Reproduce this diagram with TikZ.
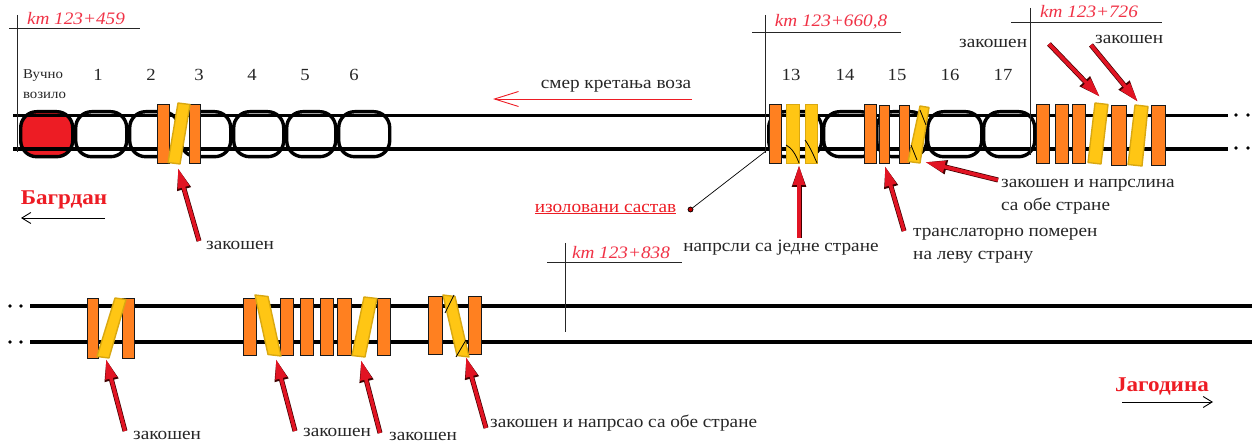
\documentclass[tikz,border=0pt]{standalone}
\usepackage{fontspec}
\setmainfont[FakeStretch=1.1]{Liberation Serif}
\usetikzlibrary{arrows.meta}
\definecolor{tieorange}{RGB}{255,128,32}
\definecolor{tieyellow}{RGB}{255,198,20}
\definecolor{marksred}{RGB}{237,28,36}
\definecolor{kmred}{RGB}{240,50,70}
\definecolor{arrowred}{RGB}{225,20,35}
\tikzset{
  x=1pt,y=-1pt,
  rail/.style={line width=3.4pt,black},
  bogie/.style={draw=black,line width=3.4pt,rounded corners=16pt},
  tie/.style={draw=black!90,line width=1.2pt,fill=tieorange},
  skewtie/.style={draw=tieyellow!85!black,line width=1.4pt,fill=tieyellow,line join=round},
  crack/.style={black,line width=.8pt},
  survey/.style={draw=black!85,line width=1pt},
  kmtext/.style={text=kmred,font=\fontsize{17.5}{17.5}\selectfont\itshape,inner sep=0pt},
  lbl/.style={font=\fontsize{17.5}{17.5}\selectfont,text=black!85,inner sep=0pt},
  num/.style={font=\fontsize{17}{17}\selectfont,text=black!85,inner sep=0pt},
  place/.style={font=\fontsize{21}{21}\selectfont\bfseries,text=marksred,inner sep=0pt},
  hit/.style={
    preaction={draw=black!75!red,line width=5pt,-{Triangle[length=22pt,width=13pt]}},
    draw=arrowred,line width=3.6pt,-{Triangle[length=20pt,width=11pt]}},
  dir/.style={line width=.9pt,-{Straight Barb[length=9pt,width=11pt]}},
}
\newcommand{\ort}[5]{\node[tie,minimum width=#3pt-#2pt,minimum height=#5pt-#4pt,inner sep=0pt,anchor=north west] (#1) at (#2,#4) {};}
\newcommand{\yrt}[5]{\node[tie,fill=tieyellow,draw=tieyellow!85!black,line width=.7pt,minimum width=#3pt-#2pt,minimum height=#5pt-#4pt,inner sep=0pt,anchor=north west] (#1) at (#2,#4) {};}
\newcommand{\sk}[7]{\draw[skewtie] (#2,#6) -- (#3,#6+1.5) -- (#5,#7) -- (#4,#7-1.5) -- cycle;\coordinate (#1) at ({(#4+#5)/2},#7);}
\newcommand{\bog}[3]{\node[bogie,minimum width=#3pt-#2pt,minimum height=45pt,inner sep=0pt,anchor=north west] (#1) at (#2,110) {};}
\begin{document}
\begin{tikzpicture}
\useasboundingbox (0,0) rectangle (1255,443);
% rails
\coordinate (r1a) at (13,115.5); \coordinate (r1b) at (1228,115.5);
\coordinate (r2a) at (13,149); \coordinate (r2b) at (1228,149);
\coordinate (r3a) at (30,306); \coordinate (r3b) at (1252,306);
\coordinate (r4a) at (30,342); \coordinate (r4b) at (1252,342);
% bogies
\node[bogie,fill=marksred,minimum width=52pt,minimum height=45pt,inner sep=0pt,anchor=north west] (v0) at (19,110) {};
\bog{b1}{74}{125}\bog{b2}{128}{177}\bog{b3}{179}{229}\bog{b4}{232}{282}\bog{b5}{285}{334}\bog{b6}{337}{388}
\bog{b13}{767}{820}\bog{b14}{822}{875}\bog{b15}{875}{925}\bog{b16}{926}{980}\bog{b17}{982}{1033}
\draw[rail] (r1a) -- (r1b); \draw[rail] (r2a) -- (r2b);
\draw[rail] (r3a) -- (r3b); \draw[rail] (r4a) -- (r4b);
% dots
\foreach \x/\y in {1236/115,1248/115,1236/148,1248/148,10/306,21/306,10/342,21/342}
  \fill[black] (\x,\y) circle (1.9pt);
% survey lines
\coordinate (k1t) at (17,15); \coordinate (k1b) at (17,152); \coordinate (k1l) at (9,29); \coordinate (k1r) at (140,29);
\coordinate (k2t) at (765,15); \coordinate (k2b) at (765,153); \coordinate (k2l) at (752,33); \coordinate (k2r) at (901,33);
\coordinate (k3t) at (1030,8); \coordinate (k3b) at (1030,155); \coordinate (k3l) at (1011,23); \coordinate (k3r) at (1162,23);
\coordinate (k4t) at (565.5,243); \coordinate (k4b) at (565.5,332); \coordinate (k4l) at (547,262.5); \coordinate (k4r) at (682,262.5);
\foreach \n in {1,2,3,4}{\draw[survey] (k\n t) -- (k\n b); \draw[survey] (k\n l) -- (k\n r);}
\node[kmtext] (t1) at (76,19) {km 123+459};
\node[kmtext] (t2) at (831,22) {km 123+660,8};
\node[kmtext] (t3) at (1089,12) {km 123+726};
\node[kmtext] (t4) at (621,253) {km 123+838};
% ties group 1
\ort{o1}{157}{169}{104}{163}
\ort{o2}{189}{200}{104}{163}
\sk{y1}{178}{190}{168}{180}{103}{164}
% group 2
\ort{o3}{769}{781}{104}{163}
\yrt{o4}{786}{799}{104}{163}
\yrt{o5}{805}{817}{104}{163}
\draw[crack] (786,145) .. controls (792,148) and (796,155) .. (799,163);
\draw[crack] (805,140) .. controls (810,147) and (814,156) .. (817,163);
\ort{o6}{864}{876}{104}{163}
\ort{o7}{879}{889}{105}{163}
\ort{o8}{899}{909}{105}{163}
\sk{y2}{920}{929}{908}{920}{106}{163}
\draw[crack] (920,110) -- (926,125);
\draw[crack] (911,145) -- (917,160);
% group 3
\ort{o9}{1036}{1049}{104}{163}
\ort{o10}{1055}{1068}{104}{163}
\ort{o11}{1072}{1085}{104}{163}
\sk{y3}{1095}{1108}{1088}{1101}{103}{164}
\ort{o12}{1111}{1126}{105}{165}
\ort{o13}{1151}{1165}{105}{165}
\sk{y4}{1135}{1148}{1128}{1142}{105}{166}
% lower groups
\ort{o14}{87}{98}{298}{358}
\ort{o15}{122}{134}{298}{358}
\sk{y5}{115}{126}{97}{109}{298}{358}
\ort{o16}{243}{256}{298}{355}
\ort{o17}{280}{293}{298}{355}
\sk{y6}{255}{268}{268}{281}{295}{356}
\ort{o18}{300}{313}{298}{355}
\ort{o19}{320}{333}{298}{355}
\ort{o20}{337}{351}{298}{355}
\ort{o21}{377}{390}{298}{355}
\sk{y7}{364}{377}{352}{365}{297}{357}
\ort{o22}{428}{442}{296}{354}
\ort{o23}{468}{481}{296}{354}
\sk{y8}{443}{455}{457}{469}{295}{357}
\draw[crack] (454,295) -- (445,313);
\draw[crack] (466,340) -- (456,357);
% leader to isolated joint
\node[circle,fill=red!75!black,draw=black,line width=.7pt,minimum size=5pt,inner sep=0pt] (dot) at (690.5,209.5) {};
\coordinate (joint) at (766,151);
\draw[black,line width=.7pt] (dot) -- (joint);
% hit arrows
\coordinate (a1s) at (199,241); \coordinate (a1e) at (178,168);
\coordinate (a2s) at (799,238); \coordinate (a2e) at (799,165);
\coordinate (a3s) at (904,231); \coordinate (a3e) at (885,166);
\coordinate (a4s) at (998,180); \coordinate (a4e) at (925,162);
\coordinate (a5s) at (1049,44); \coordinate (a5e) at (1100,97);
\coordinate (a6s) at (1091,45); \coordinate (a6e) at (1138,102);
\coordinate (a7s) at (125,431); \coordinate (a7e) at (106,359);
\coordinate (a8s) at (295,431); \coordinate (a8e) at (276,359);
\coordinate (a9s) at (380,433); \coordinate (a9e) at (361,360);
\coordinate (a10s) at (486,428); \coordinate (a10e) at (466,357);
\foreach \n in {1,...,10}{\draw[hit] (a\n s) -- (a\n e);}
% direction arrows
\coordinate (d1s) at (692,99); \coordinate (d1e) at (493,99);
\draw[dir,draw=marksred,-{Straight Barb[length=24pt,width=15pt]}] (d1s) -- (d1e);
\coordinate (d2s) at (105,218); \coordinate (d2e) at (21,218);
\draw[dir] (d2s) -- (d2e);
\coordinate (d3s) at (1122,402); \coordinate (d3e) at (1213,402);
\draw[dir] (d3s) -- (d3e);
% labels
\node[lbl,font=\fontsize{13.5}{13.5}\selectfont] (vu) at (43,76) {Вучно};
\node[lbl,font=\fontsize{13.5}{13.5}\selectfont] (vo) at (44.5,95) {возило};
\node[num] (n1) at (98,75) {1};
\node[num] (n2) at (151,75) {2};
\node[num] (n3) at (199,75) {3};
\node[num] (n4) at (252,75) {4};
\node[num] (n5) at (305,75) {5};
\node[num] (n6) at (354,75) {6};
\node[num] (n13) at (791,75) {13};
\node[num] (n14) at (845,75) {14};
\node[num] (n15) at (897,75) {15};
\node[num] (n16) at (950,75) {16};
\node[num] (n17) at (1003,75) {17};
\node[lbl] (smer) at (616,86) {смер кретања воза};
\node[lbl,text=marksred] (izo) at (605.5,209) {\underline{изоловани састав}};
\node[lbl] (l1) at (781,248) {напрсли са једне стране};
\node[lbl,anchor=west] (l2) at (913,234) {транслаторно померен};
\node[lbl,anchor=west] (l3) at (913,257) {на леву страну};
\node[lbl,anchor=west] (l4) at (1001,185) {закошен и напрслина};
\node[lbl,anchor=west] (l5) at (1001,206) {са обе стране};
\node[lbl,anchor=west] (l6) at (959,43) {закошен};
\node[lbl,anchor=west] (l7) at (1095,39) {закошен};
\node[lbl,anchor=west] (l8) at (206,245) {закошен};
\node[lbl,anchor=west] (l9) at (133,435) {закошен};
\node[lbl,anchor=west] (l10) at (303,432) {закошен};
\node[lbl,anchor=west] (l11) at (389,436) {закошен};
\node[lbl,anchor=west] (l12) at (490,423) {закошен и напрсао са обе стране};
\node[place] (bag) at (64,200) {Багрдан};
\node[place] (jag) at (1162,386) {Јагодина};
\end{tikzpicture}
\end{document}
